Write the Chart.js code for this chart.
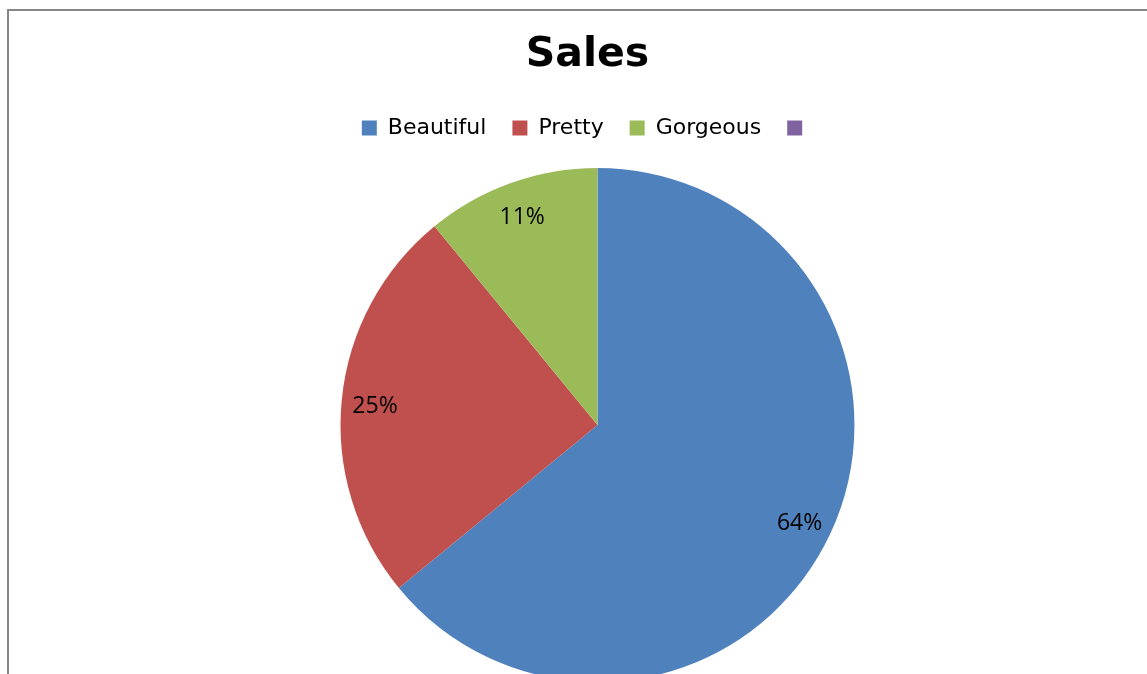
<!DOCTYPE html>
<html>
<head>
<meta charset="utf-8">
<script src="https://cdn.jsdelivr.net/npm/chart.js@4"></script>
<style>
  html, body { margin: 0; padding: 0; background: #ffffff; overflow: hidden; width: 1147px; height: 674px; }
  #frame { position: absolute; left: 7px; top: 9px; width: 1300px; height: 900px;
           border-top: 2px solid #878787; border-left: 2px solid #878787; }
  #wrap { position: absolute; left: 0; top: 0; width: 1147px; height: 701px; }
</style>
</head>
<body>
<div id="frame"></div>
<div id="wrap"><canvas id="c"></canvas></div>
<script>
const chartTitle = 'Sales';
const categories = ['Beautiful', 'Pretty', 'Gorgeous', ''];
const salesValues = [8.2, 3.2, 1.4, null];
const sliceColors = ['#4F81BD', '#C0504D', '#9BBB59', '#8064A2'];

const sliceLabels = {
  id: 'sliceLabels',
  afterDatasetsDraw(chart) {
    const ctx = chart.ctx;
    const meta = chart.getDatasetMeta(0);
    const data = chart.data.datasets[0].data;
    const total = data.reduce((s, v) => s + (v || 0), 0);
    ctx.save();
    ctx.font = '23px "Open Sans"';
    ctx.fillStyle = '#000000';
    ctx.textAlign = 'center';
    ctx.textBaseline = 'middle';
    meta.data.forEach((arc, i) => {
      const v = data[i];
      if (!v) return;
      const p = arc.getProps(['x', 'y', 'startAngle', 'endAngle', 'outerRadius'], true);
      const mid = (p.startAngle + p.endAngle) / 2;
      const r = p.outerRadius * 0.87;
      ctx.fillText(Math.round(v / total * 100) + '%', p.x + Math.cos(mid) * r, p.y + Math.sin(mid) * r + 3);
    });
    ctx.restore();
  }
};

new Chart(document.getElementById('c'), {
  type: 'pie',
  data: {
    labels: categories,
    datasets: [{
      data: salesValues,
      backgroundColor: sliceColors,
      borderWidth: 0,
      radius: '93.1%'
    }]
  },
  options: {
    responsive: true,
    maintainAspectRatio: false,
    animation: false,
    devicePixelRatio: 1,
    layout: { padding: { left: 28, right: 0, top: 0, bottom: 0 } },
    plugins: {
      title: {
        display: true,
        text: chartTitle,
        color: '#000000',
        font: { family: '"DejaVu Sans"', size: 41, weight: 'bold', lineHeight: 1.2 },
        padding: { top: 31, bottom: 10.8 }
      },
      subtitle: {
        display: true,
        text: ' ',
        position: 'left',
        fullSize: false,
        font: { size: 10, lineHeight: 1.2 },
        padding: { top: 4, bottom: 4 }
      },
      legend: {
        display: true,
        position: 'top',
        labels: {
          color: '#000000',
          font: { family: '"DejaVu Sans"', size: 22 },
          boxWidth: 15,
          boxHeight: 15,
          padding: 26
        }
      },
      tooltip: { enabled: false }
    }
  },
  plugins: [sliceLabels]
});
</script>
</body>
</html>
